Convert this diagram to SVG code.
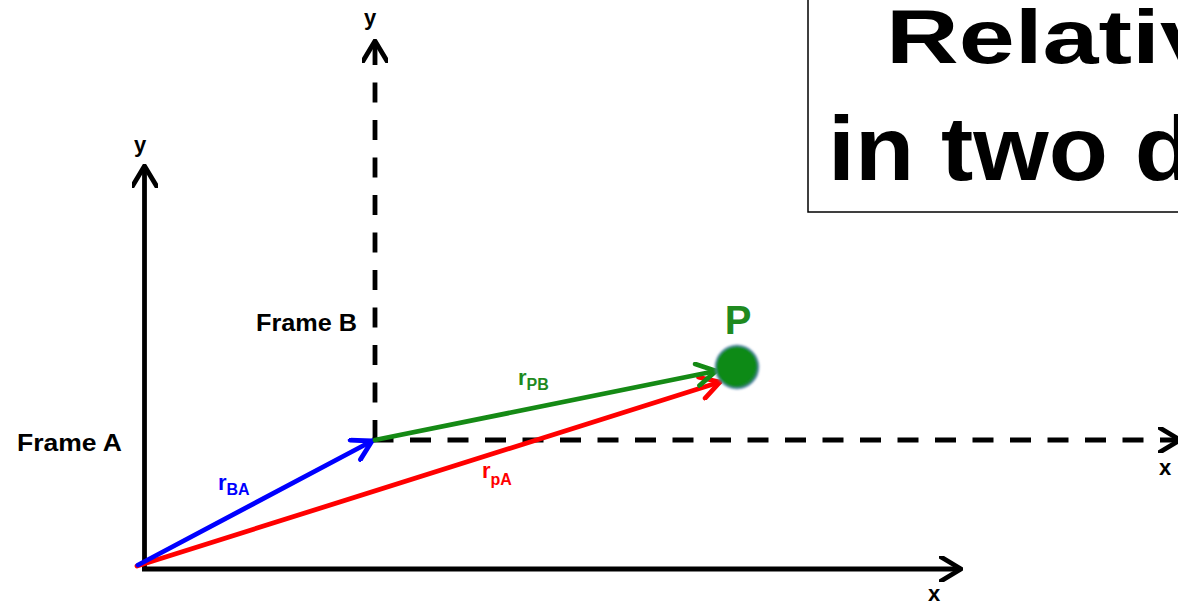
<svg xmlns="http://www.w3.org/2000/svg" width="1178" height="604" viewBox="0 0 1178 604">
  <style>
    text { font-family: "Liberation Sans", Arial, sans-serif; font-weight: bold; }
    .axis { fill: none; stroke: #000; stroke-width: 4.8; }
    .dash { fill: none; stroke: #000; stroke-width: 4.8; }
    .vec { fill: none; stroke-width: 4.8; stroke-linecap: round; }
    .lbl { font-size: 22px; fill: #000; }
    .frame { font-size: 24px; fill: #000; }
    .title { fill: #000; }
  </style>
  <defs>
    <marker id="chevK" viewBox="0 0 24 26" refX="22" refY="13" markerWidth="24" markerHeight="26" markerUnits="userSpaceOnUse" orient="auto">
      <path d="M2,1 L22,13 L2,25" fill="none" stroke="#000" stroke-width="4.8" stroke-linejoin="round" stroke-linecap="round"/>
    </marker>
    <marker id="chevB" viewBox="0 0 24 26" refX="22" refY="13" markerWidth="24" markerHeight="26" markerUnits="userSpaceOnUse" orient="auto">
      <path d="M3,2 L22,13 L3,24" fill="none" stroke="#0000ff" stroke-width="4.8" stroke-linejoin="round" stroke-linecap="round"/>
    </marker>
    <marker id="chevR" viewBox="0 0 24 26" refX="22" refY="13" markerWidth="24" markerHeight="26" markerUnits="userSpaceOnUse" orient="auto">
      <path d="M3,2 L22,13 L3,24" fill="none" stroke="#ff0000" stroke-width="4.8" stroke-linejoin="round" stroke-linecap="round"/>
    </marker>
    <marker id="chevG" viewBox="0 0 24 26" refX="22" refY="13" markerWidth="24" markerHeight="26" markerUnits="userSpaceOnUse" orient="auto">
      <path d="M3,2 L22,13 L3,24" fill="none" stroke="#158a15" stroke-width="4.8" stroke-linejoin="round" stroke-linecap="round"/>
    </marker>
    <radialGradient id="dotG" cx="0.45" cy="0.45" r="0.6">
      <stop offset="0" stop-color="#0a8a12"/>
      <stop offset="0.75" stop-color="#0b8a14"/>
      <stop offset="1" stop-color="#2f7a60"/>
    </radialGradient>
    <filter id="soft" x="-20%" y="-20%" width="140%" height="140%">
      <feGaussianBlur stdDeviation="0.8"/>
    </filter>
  </defs>

  <g id="title">
    <rect x="808" y="-10" width="420" height="222" fill="#fff" stroke="#000" stroke-width="1.5"/>
    <text class="title" x="886" y="63" font-size="76" textLength="330" lengthAdjust="spacingAndGlyphs">Relativ</text>
    <text class="title" x="828" y="180" font-size="90" textLength="366" lengthAdjust="spacingAndGlyphs">in two d</text>
  </g>

  <g id="connectors">
    <path id="frameA-y" class="axis" d="M144.5,569 L144.5,166" marker-end="url(#chevK)"/>
    <path id="frameA-x" class="axis" d="M142,569 L961,569" marker-end="url(#chevK)"/>
    <path id="frameB-y" class="dash" d="M375,440 L375,41" stroke-dasharray="20 17.5" marker-end="url(#chevK)"/>
    <path id="frameB-x" class="dash" d="M372.5,440 L1180,440" stroke-dasharray="21 16.5" marker-end="url(#chevK)"/>
    <path id="rPA" class="vec" stroke="#ff0000" d="M137,566 L720,382" marker-end="url(#chevR)"/>
    <path id="rBA" class="vec" stroke="#0000ff" d="M138,565 L372,441" marker-end="url(#chevB)"/>
    <path id="rPB" class="vec" stroke="#158a15" d="M375,440 L716,371" marker-end="url(#chevG)"/>
  </g>

  <g id="point-P">
    <circle cx="737" cy="367" r="21.5" fill="url(#dotG)" stroke="#5a88b0" stroke-width="1.8" stroke-opacity="0.8" filter="url(#soft)"/>
    <text x="738" y="334" font-size="40" fill="#1f8a1f" text-anchor="middle">P</text>
  </g>

  <g id="frameA">
    <text class="frame" x="17" y="451" textLength="105" lengthAdjust="spacingAndGlyphs">Frame A</text>
    <text class="lbl" x="140" y="152" text-anchor="middle">y</text>
    <text class="lbl" x="934" y="601" text-anchor="middle">x</text>
  </g>

  <g id="frameB">
    <text class="frame" x="256" y="331" textLength="101" lengthAdjust="spacingAndGlyphs">Frame B</text>
    <text class="lbl" x="370" y="25" text-anchor="middle">y</text>
    <text class="lbl" x="1165" y="475" text-anchor="middle">x</text>
  </g>

  <g id="labels">
    <text x="218" y="490" font-size="22" fill="#0000ff">r<tspan font-size="16" dy="5">BA</tspan></text>
    <text x="482" y="478" font-size="22" fill="#ff0000">r<tspan font-size="16" dy="7">pA</tspan></text>
    <text x="518" y="385" font-size="22" fill="#1f8a1f">r<tspan font-size="16" dy="5">PB</tspan></text>
  </g>
</svg>
